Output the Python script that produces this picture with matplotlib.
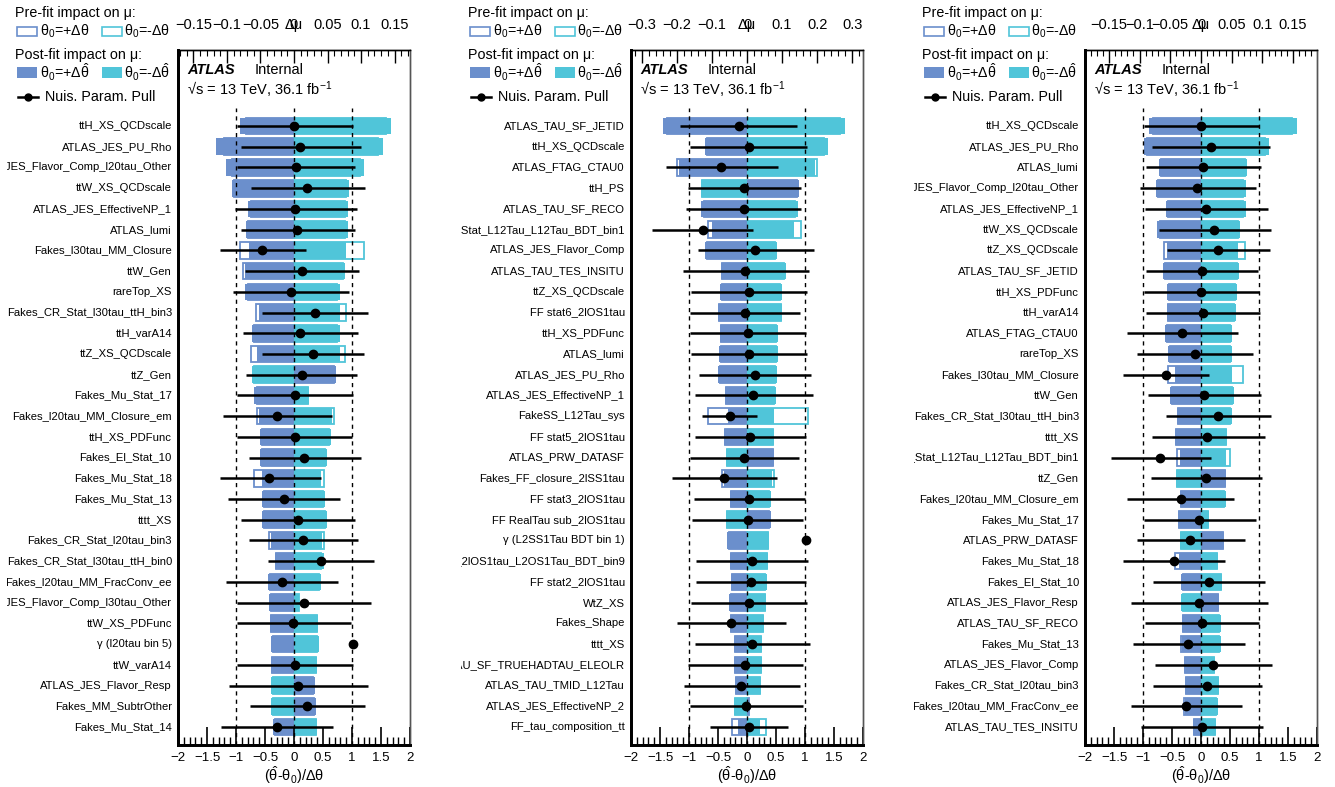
import numpy as np
import matplotlib.pyplot as plt
from matplotlib.patches import Rectangle
from matplotlib.lines import Line2D
from matplotlib.ticker import MultipleLocator, FuncFormatter
from matplotlib.transforms import Bbox, TransformedBbox, blended_transform_factory

plt.rcParams['font.family'] = ['Liberation Sans', 'DejaVu Sans']
plt.rcParams['mathtext.default'] = 'regular'

# ---------------- data: panel 1 ----------------
names1 = ['ttH_XS_QCDscale', 'ATLAS_JES_PU_Rho', 'ATLAS_JES_Flavor_Comp_l20tau_Other', 'ttW_XS_QCDscale',
          'ATLAS_JES_EffectiveNP_1', 'ATLAS_lumi', 'Fakes_l30tau_MM_Closure', 'ttW_Gen', 'rareTop_XS',
          'Fakes_CR_Stat_l30tau_ttH_bin3', 'ttH_varA14', 'ttZ_XS_QCDscale', 'ttZ_Gen', 'Fakes_Mu_Stat_17',
          'Fakes_l20tau_MM_Closure_em', 'ttH_XS_PDFunc', 'Fakes_El_Stat_10', 'Fakes_Mu_Stat_18',
          'Fakes_Mu_Stat_13', 'tttt_XS', 'Fakes_CR_Stat_l20tau_bin3', 'Fakes_CR_Stat_l30tau_ttH_bin0',
          'Fakes_l20tau_MM_FracConv_ee', 'ATLAS_JES_Flavor_Comp_l30tau_Other', 'ttW_XS_PDFunc',
          'γ (l20tau bin 5)', 'ttW_varA14', 'ATLAS_JES_Flavor_Resp', 'Fakes_MM_SubtrOther', 'Fakes_Mu_Stat_14']
post_up1 = [-0.080, -0.116, -0.101, -0.093, -0.069, -0.072, -0.067, -0.073, -0.073, -0.052, -0.063, -0.055, 0.062, -0.060, -0.052,
            -0.051, -0.051, -0.048, -0.048, -0.048, -0.035, -0.029, -0.039, -0.037, -0.036, -0.034, -0.035, 0.031, 0.033, -0.031]
post_dn1 = [0.145, 0.133, 0.104, 0.082, 0.080, 0.080, 0.077, 0.076, 0.068, 0.069, 0.068, 0.068, -0.062, 0.023, 0.057,
            0.055, 0.049, 0.040, 0.046, 0.049, 0.042, 0.045, 0.041, 0.008, 0.036, 0.037, 0.035, -0.034, -0.034, 0.035]
pre_up1 = [-0.072, -0.104, -0.092, -0.090, -0.064, -0.068, -0.081, -0.076, -0.068, -0.057, -0.059, -0.064, 0.060, -0.055, -0.055,
           -0.048, -0.047, -0.060, -0.045, -0.045, -0.037, -0.027, -0.036, -0.034, -0.034, -0.031, -0.033, 0.029, 0.030, -0.028]
pre_dn1 = [0.137, 0.126, 0.098, 0.078, 0.076, 0.076, 0.104, 0.073, 0.064, 0.078, 0.064, 0.076, -0.060, 0.021, 0.060,
           0.052, 0.046, 0.044, 0.043, 0.046, 0.045, 0.041, 0.038, 0.007, 0.034, 0.035, 0.033, -0.032, -0.032, 0.033]
pull1 = [0.0, 0.11, 0.03, 0.23, 0.01, 0.06, -0.55, 0.13, -0.06, 0.36, 0.10, 0.32, 0.13, 0.02, -0.30,
         0.01, 0.18, -0.43, -0.17, 0.07, 0.16, 0.46, -0.21, 0.17, -0.01, 1.02, 0.02, 0.07, 0.22, -0.30]
errlo1 = [0.98, 1.03, 1.01, 0.97, 1.03, 0.98, 0.73, 0.97, 0.99, 0.92, 0.98, 0.88, 0.95, 1.00, 0.92,
          0.99, 0.96, 0.85, 0.97, 0.98, 0.94, 0.91, 0.96, 1.16, 0.98, 0.0, 1.01, 1.19, 0.98, 0.96]
errhi1 = [1.02, 1.05, 1.03, 0.99, 1.07, 1.00, 0.75, 0.99, 1.01, 0.92, 1.00, 0.89, 0.96, 1.00, 0.95,
          0.99, 0.98, 0.89, 0.97, 0.99, 0.95, 0.92, 0.97, 1.16, 1.00, 0.0, 1.00, 1.21, 1.00, 0.98]

# ---------------- data: panel 2 ----------------
names2 = ['ATLAS_TAU_SF_JETID', 'ttH_XS_QCDscale', 'ATLAS_FTAG_CTAU0', 'ttH_PS', 'ATLAS_TAU_SF_RECO',
          'Fakes_Stat_L12Tau_L12Tau_BDT_bin1', 'ATLAS_JES_Flavor_Comp', 'ATLAS_TAU_TES_INSITU', 'ttZ_XS_QCDscale',
          'FF stat6_2lOS1tau', 'ttH_XS_PDFunc', 'ATLAS_lumi', 'ATLAS_JES_PU_Rho', 'ATLAS_JES_EffectiveNP_1',
          'FakeSS_L12Tau_sys', 'FF stat5_2lOS1tau', 'ATLAS_PRW_DATASF', 'Fakes_FF_closure_2lSS1tau',
          'FF stat3_2lOS1tau', 'FF RealTau sub_2lOS1tau', 'γ (L2SS1Tau BDT bin 1)',
          'FF_Stat_2lOS1tau_L2OS1Tau_BDT_bin9', 'FF stat2_2lOS1tau', 'WtZ_XS', 'Fakes_Shape', 'tttt_XS',
          'ATLAS_TAU_SF_TRUEHADTAU_ELEOLR', 'ATLAS_TAU_TMID_L12Tau', 'ATLAS_JES_EffectiveNP_2', 'FF_tau_composition_tt']
post_up2 = [-0.241, -0.121, -0.194, 0.149, -0.131, -0.101, -0.121, -0.075, -0.076, -0.083, -0.078, -0.080, -0.083, -0.063, -0.055,
            -0.066, 0.076, -0.066, -0.048, 0.068, -0.056, -0.048, -0.045, -0.050, -0.048, -0.038, -0.037, -0.033, 0.007, -0.027]
post_dn2 = [0.281, 0.232, 0.193, -0.131, 0.146, 0.133, 0.086, 0.111, 0.100, 0.100, 0.088, 0.088, 0.086, 0.083, 0.078,
            0.078, -0.060, 0.071, 0.068, -0.060, 0.063, 0.060, 0.056, 0.055, 0.048, 0.043, 0.043, 0.040, -0.037, 0.038]
pre_up2 = [-0.228, -0.113, -0.201, 0.142, -0.124, -0.110, -0.114, -0.070, -0.071, -0.080, -0.073, -0.075, -0.078, -0.059, -0.111,
           -0.062, 0.075, -0.071, -0.045, 0.064, -0.052, -0.045, -0.042, -0.047, -0.045, -0.035, -0.034, -0.031, 0.006, -0.043]
pre_dn2 = [0.266, 0.219, 0.199, -0.128, 0.138, 0.153, 0.081, 0.105, 0.094, 0.098, 0.083, 0.083, 0.081, 0.078, 0.173,
           0.073, -0.057, 0.076, 0.064, -0.056, 0.059, 0.056, 0.052, 0.052, 0.045, 0.040, 0.040, 0.037, -0.035, 0.053]
pull2 = [-0.14, 0.03, -0.44, -0.05, -0.06, -0.76, 0.14, -0.04, 0.04, -0.04, 0.02, 0.03, 0.13, 0.11, -0.30,
         0.05, -0.06, -0.40, 0.04, 0.01, 1.02, 0.09, 0.07, 0.03, -0.28, 0.09, -0.04, -0.10, -0.02, 0.03]
errlo2 = [1.01, 1.02, 0.95, 0.97, 1.00, 0.88, 0.98, 1.07, 1.00, 0.95, 1.01, 0.99, 0.96, 1.00, 0.47,
          0.95, 0.93, 0.90, 0.96, 0.96, 0.0, 0.97, 0.95, 0.99, 0.93, 0.98, 0.98, 0.98, 0.97, 0.67]
errhi2 = [1.01, 1.00, 0.97, 0.98, 0.99, 0.87, 1.01, 1.11, 0.99, 0.96, 0.99, 1.01, 0.98, 1.02, 0.47,
          0.96, 0.95, 0.92, 0.96, 0.96, 0.0, 0.96, 0.94, 1.00, 0.95, 0.99, 1.00, 1.01, 0.99, 0.67]

# ---------------- data: panel 3 ----------------
names3 = ['ttH_XS_QCDscale', 'ATLAS_JES_PU_Rho', 'ATLAS_lumi', 'ATLAS_JES_Flavor_Comp_l20tau_Other',
          'ATLAS_JES_EffectiveNP_1', 'ttW_XS_QCDscale', 'ttZ_XS_QCDscale', 'ATLAS_TAU_SF_JETID', 'ttH_XS_PDFunc',
          'ttH_varA14', 'ATLAS_FTAG_CTAU0', 'rareTop_XS', 'Fakes_l30tau_MM_Closure', 'ttW_Gen',
          'Fakes_CR_Stat_l30tau_ttH_bin3', 'tttt_XS', 'Fakes_Stat_L12Tau_L12Tau_BDT_bin1', 'ttZ_Gen',
          'Fakes_l20tau_MM_Closure_em', 'Fakes_Mu_Stat_17', 'ATLAS_PRW_DATASF', 'Fakes_Mu_Stat_18',
          'Fakes_El_Stat_10', 'ATLAS_JES_Flavor_Resp', 'ATLAS_TAU_SF_RECO', 'Fakes_Mu_Stat_13',
          'ATLAS_JES_Flavor_Comp', 'Fakes_CR_Stat_l20tau_bin3', 'Fakes_l20tau_MM_FracConv_ee', 'ATLAS_TAU_TES_INSITU']
post_up3 = [-0.084, -0.093, -0.069, -0.074, -0.057, -0.071, -0.055, -0.062, -0.055, -0.056, -0.058, -0.054, -0.042, -0.050, -0.039,
            -0.043, -0.035, 0.041, -0.035, -0.038, 0.038, -0.036, -0.032, 0.029, -0.031, -0.031, -0.028, -0.026, -0.026, -0.013]
post_dn3 = [0.157, 0.110, 0.075, 0.073, 0.073, 0.063, 0.060, 0.062, 0.058, 0.057, 0.051, 0.051, 0.051, 0.053, 0.051,
            0.043, 0.041, -0.041, 0.041, 0.013, -0.034, 0.028, 0.034, -0.032, 0.032, 0.032, 0.022, 0.029, 0.027, 0.025]
pre_up3 = [-0.079, -0.088, -0.065, -0.070, -0.054, -0.067, -0.061, -0.059, -0.052, -0.053, -0.055, -0.051, -0.053, -0.047, -0.037,
           -0.041, -0.039, 0.039, -0.033, -0.036, 0.036, -0.042, -0.030, 0.027, -0.029, -0.033, -0.026, -0.024, -0.027, -0.012]
pre_dn3 = [0.149, 0.104, 0.071, 0.069, 0.069, 0.060, 0.071, 0.059, 0.055, 0.054, 0.048, 0.048, 0.069, 0.050, 0.047,
           0.041, 0.048, -0.039, 0.038, 0.012, -0.032, 0.026, 0.032, -0.030, 0.030, 0.030, 0.021, 0.027, 0.025, 0.023]
pull3 = [0.0, 0.17, 0.04, -0.07, 0.08, 0.22, 0.29, 0.01, 0.0, 0.03, -0.33, -0.11, -0.61, 0.05, 0.30,
         0.11, -0.70, 0.09, -0.35, -0.03, -0.19, -0.46, 0.14, -0.03, 0.01, -0.23, 0.20, 0.11, -0.26, 0.01]
errlo3 = [0.99, 1.01, 0.99, 0.99, 1.04, 0.95, 0.88, 0.96, 0.99, 0.98, 0.95, 1.00, 0.73, 0.96, 0.91,
          0.96, 0.86, 0.95, 0.93, 0.95, 0.92, 0.88, 0.96, 1.17, 0.98, 0.95, 0.99, 0.93, 0.95, 1.04]
errhi3 = [1.00, 1.02, 0.99, 1.01, 1.07, 0.99, 0.90, 0.98, 1.00, 0.98, 0.96, 1.01, 0.75, 0.98, 0.91,
          0.99, 0.87, 0.96, 0.92, 0.97, 0.94, 0.87, 0.96, 1.19, 0.99, 0.98, 1.03, 0.95, 0.97, 1.06]

mu_lims = [0.173, 0.331, 0.189]     # range of the top delta-mu axis
mu_steps = [0.05, 0.1, 0.05]

# ---------------- layout (pixels) ----------------
W, H = 1335, 787
DARK = '#6b8fcc'
CYAN = '#50c5d9'
lefts = [178, 631, 1085]
clips = [7, 461, 914]
ax_w, ax_top, ax_bot = 232, 50, 745


def fx(x):
    return x / W


def fy(y):
    return 1 - y / H


def fmt(v, p):
    return f'{round(v, 3) + 0.0:g}'.replace('-', '\u2212')


fig = plt.figure(figsize=(W / 100, H / 100), dpi=100)

panels = [
    (names1, post_up1, post_dn1, pre_up1, pre_dn1, pull1, errlo1, errhi1),
    (names2, post_up2, post_dn2, pre_up2, pre_dn2, pull2, errlo2, errhi2),
    (names3, post_up3, post_dn3, pre_up3, pre_dn3, pull3, errlo3, errhi3),
]

for k, (names, pu, pd, qu, qd, pull, elo, ehi) in enumerate(panels):
    left = lefts[k]
    dx = left - lefts[0]
    n = len(names)
    y = -np.arange(n)

    ax = fig.add_axes([fx(left), fy(ax_bot), ax_w / W, (ax_bot - ax_top) / H])
    axt = ax.twiny()
    ax.set_zorder(2)
    axt.set_zorder(1)
    ax.patch.set_visible(False)
    ax.set_ylim(-n + 1 - 0.87, 3.67)
    ax.set_xlim(-2, 2)
    axt.set_xlim(-mu_lims[k], mu_lims[k])

    # impacts on delta-mu axis
    axt.barh(y, qu, height=0.8, facecolor='white', edgecolor=DARK, lw=1.3, zorder=1)
    axt.barh(y, qd, height=0.8, facecolor='white', edgecolor=CYAN, lw=1.3, zorder=1)
    axt.barh(y, pu, height=0.8, color=DARK, zorder=2)
    axt.barh(y, pd, height=0.8, color=CYAN, zorder=2)

    # pulls
    ax.vlines([-1, 0, 1], -n + 1 - 0.87, 0.87, colors='k', linestyles=(0, (3, 3)), lw=1)
    ax.errorbar(pull, y, xerr=[elo, ehi], fmt='o', color='k', ms=6, lw=1.8, capsize=0)

    # axes styling
    ax.set_yticks([])
    ax.xaxis.set_major_locator(MultipleLocator(0.5))
    ax.xaxis.set_minor_locator(MultipleLocator(0.1))
    ax.xaxis.set_major_formatter(FuncFormatter(fmt))
    ax.tick_params(axis='x', which='major', direction='in', length=13, width=1.2, top=False,
                   labelsize=9.5, pad=5)
    ax.tick_params(axis='x', which='minor', direction='in', length=6, width=1.0, top=False)
    axt.xaxis.set_major_locator(MultipleLocator(mu_steps[k]))
    axt.xaxis.set_minor_locator(MultipleLocator(mu_steps[k] / 5))
    axt.xaxis.set_major_formatter(FuncFormatter(fmt))
    axt.tick_params(axis='x', which='major', direction='in', length=9, width=1.0, labelsize=10.5, pad=13)
    axt.tick_params(axis='x', which='minor', direction='in', length=4, width=0.8)
    axt.set_yticks([])
    for a in (ax, axt):
        a.spines['left'].set_linewidth(2)
        a.spines['bottom'].set_linewidth(2)
        a.spines['right'].set_linewidth(1)
        a.spines['right'].set_color('#555555')
        a.spines['top'].set_linewidth(1)

    ax.text(0.5, 1.036, '\u0394\u03bc', transform=ax.transAxes, ha='center', va='center', fontsize=10.5)
    ax.text(0.5, -0.043, r'($\hat{\theta}$-$\theta_0$)/$\Delta\theta$', transform=ax.transAxes,
            ha='center', va='center', fontsize=10.5)

    ax.text(0.039, 0.971, 'ATLAS', transform=ax.transAxes, fontsize=10.5, fontweight='bold',
            fontstyle='italic', va='center')
    ax.text(0.332, 0.971, 'Internal', transform=ax.transAxes, fontsize=10.5, va='center')
    ax.text(0.039, 0.942, '\u221as = 13 TeV, 36.1 fb$^{-1}$', transform=ax.transAxes,
            fontsize=10.5, va='center')

    # parameter names, clipped at the left edge of each panel
    tr = blended_transform_factory(fig.transFigure, ax.transData)
    cbox = TransformedBbox(Bbox([[fx(clips[k]), 0], [fx(left), 1]]), fig.transFigure)
    for yi, name in zip(y, names):
        t = fig.text(fx(left - 6), yi, name, transform=tr, ha='right', va='center', fontsize=8.1)
        t.set_clip_box(cbox)
        t.set_clip_on(True)

    # legend block
    fig.text(fx(15 + dx), fy(13), 'Pre-fit impact on \u03bc:', fontsize=10.3, va='center')
    fig.patches.append(Rectangle((fx(17 + dx), fy(36)), 20 / W, 9 / H, transform=fig.transFigure,
                                 facecolor='white', edgecolor=DARK, lw=1.2))
    fig.patches.append(Rectangle((fx(102 + dx), fy(36)), 20 / W, 9 / H, transform=fig.transFigure,
                                 facecolor='white', edgecolor=CYAN, lw=1.2))
    fig.text(fx(40 + dx), fy(31), r'$\theta_0$=+$\Delta\theta$', fontsize=10.3, va='center')
    fig.text(fx(124 + dx), fy(31), r'$\theta_0$=-$\Delta\theta$', fontsize=10.3, va='center')
    fig.text(fx(15 + dx), fy(55), 'Post-fit impact on \u03bc:', fontsize=10.3, va='center')
    fig.patches.append(Rectangle((fx(17 + dx), fy(78)), 20 / W, 11 / H, transform=fig.transFigure,
                                 facecolor=DARK, edgecolor='none'))
    fig.patches.append(Rectangle((fx(102 + dx), fy(78)), 20 / W, 11 / H, transform=fig.transFigure,
                                 facecolor=CYAN, edgecolor='none'))
    fig.text(fx(40 + dx), fy(72), r'$\theta_0$=+$\Delta\hat{\theta}$', fontsize=10.3, va='center')
    fig.text(fx(124 + dx), fy(72), r'$\theta_0$=-$\Delta\hat{\theta}$', fontsize=10.3, va='center')
    fig.lines.append(Line2D([fx(18 + dx), fx(38 + dx)], [fy(97), fy(97)], transform=fig.transFigure,
                            color='k', lw=1.8))
    fig.lines.append(Line2D([fx(28 + dx)], [fy(97)], transform=fig.transFigure, color='k',
                            marker='o', ms=5))
    fig.text(fx(45 + dx), fy(97), 'Nuis. Param. Pull', fontsize=10.3, va='center')

fig.savefig('out.png', dpi=100)
